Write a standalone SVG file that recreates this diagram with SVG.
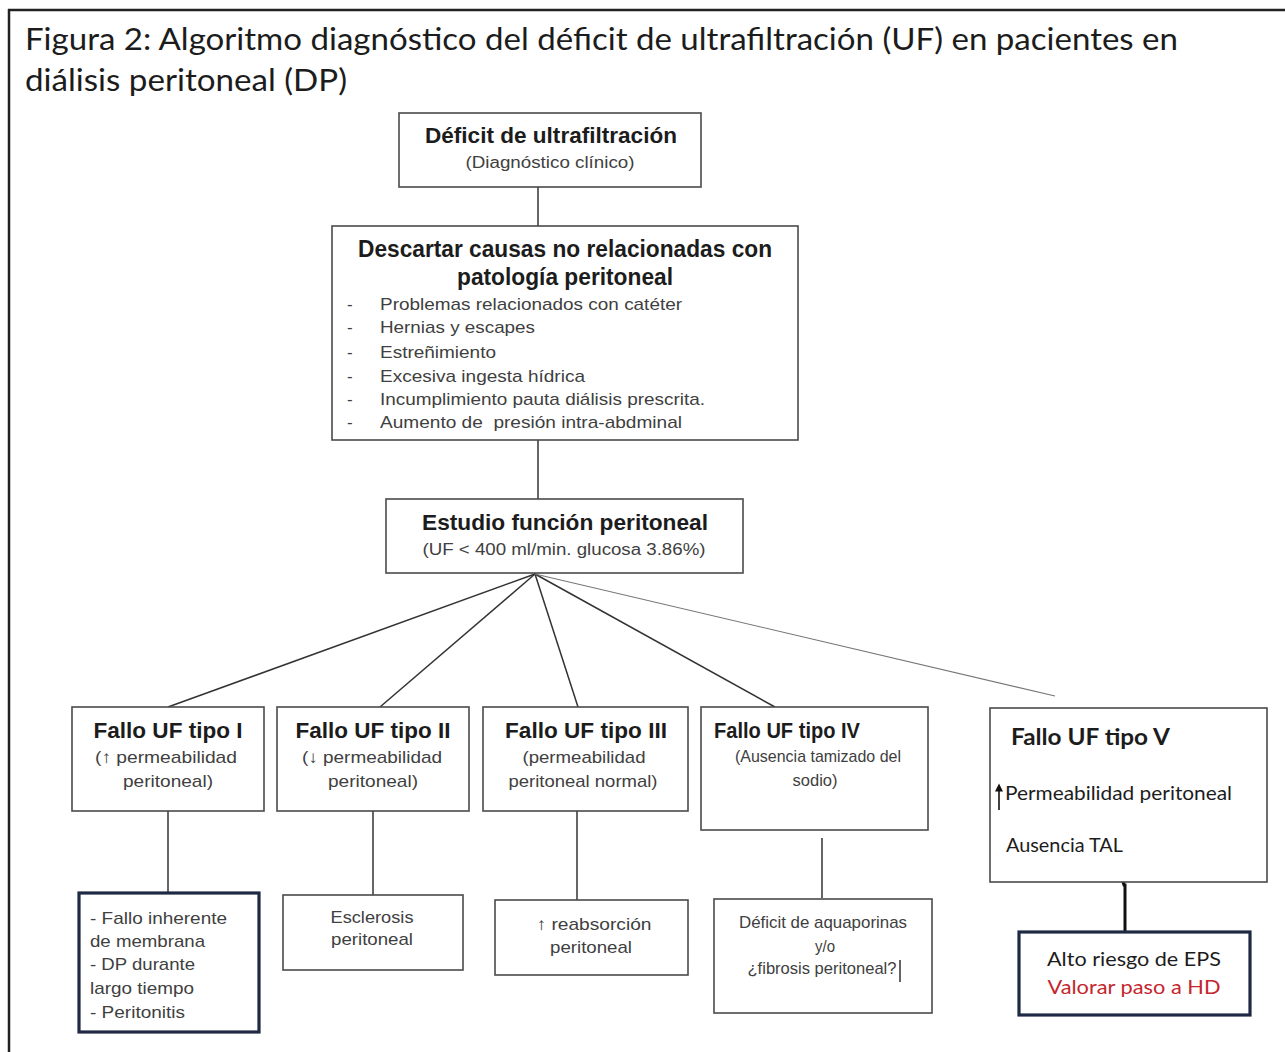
<svg xmlns="http://www.w3.org/2000/svg" width="1285" height="1052" viewBox="0 0 1285 1052">
<style>
.box{fill:#fff;stroke:#4a4a4a;stroke-width:1.6}
.dark{fill:#fff;stroke:#1e2a44;stroke-width:3.2}
.ar{font-family:"Liberation Sans",Arial,sans-serif;fill:#1c1c1c}
.b{font-weight:bold}
.sub{fill:#404040}
.cal{font-family:Lato,"Open Sans",sans-serif;fill:#1c1c1c}
.con{stroke:#333;stroke-width:1.5;fill:none}
</style>
<defs>
<marker id="ah" viewBox="0 0 10 10" refX="2" refY="5" markerWidth="9" markerHeight="8" orient="auto" markerUnits="userSpaceOnUse">
<path d="M0,0 L10,5 L0,10 Z" fill="#111"/>
</marker>
</defs>
<rect x="0" y="0" width="1285" height="1052" fill="#fff"/>
<g id="frame">
<line x1="8" y1="10" x2="1285" y2="10" stroke="#222" stroke-width="2.5"/>
<line x1="9" y1="9" x2="9" y2="1052" stroke="#222" stroke-width="2.5"/>
</g>
<g id="title" class="cal" font-size="30">
<text x="25" y="50" textLength="1153" lengthAdjust="spacingAndGlyphs">Figura 2: Algoritmo diagnóstico del déficit de ultrafiltración (UF) en pacientes en</text>
<text x="25" y="91" textLength="322" lengthAdjust="spacingAndGlyphs">diálisis peritoneal (DP)</text>
</g>
<g id="connectors">
<line class="con" x1="538" y1="187" x2="538" y2="226"/>
<line class="con" x1="538" y1="440" x2="538" y2="499"/>
<line class="con" x1="535" y1="574" x2="168" y2="707"/>
<line class="con" x1="535" y1="574" x2="380" y2="707"/>
<line class="con" x1="535" y1="574" x2="578" y2="707"/>
<line class="con" x1="535" y1="574" x2="775" y2="707"/>
<line x1="535" y1="574" x2="1055" y2="696" stroke="#777" stroke-width="1.1"/>
<line class="con" x1="168" y1="811" x2="168" y2="893"/>
<line class="con" x1="373" y1="811" x2="373" y2="895"/>
<line class="con" x1="577" y1="811" x2="577" y2="900"/>
<line class="con" x1="822" y1="838" x2="822" y2="898"/>
<path d="M1122,879 L1124,885 L1125,885 L1125,932" stroke="#111" stroke-width="3" fill="none"/>
</g>
<g id="n_deficit">
<rect class="box" x="399" y="113" width="302" height="74"/>
<text class="ar b" x="551" y="143" font-size="22" text-anchor="middle" textLength="252" lengthAdjust="spacingAndGlyphs">Déficit de ultrafiltración</text>
<text class="ar sub" x="550" y="168" font-size="16" text-anchor="middle" textLength="169" lengthAdjust="spacingAndGlyphs">(Diagnóstico clínico)</text>
</g>
<g id="n_descartar">
<rect class="box" x="332" y="226" width="466" height="214"/>
<text class="ar b" x="565" y="257" font-size="23" text-anchor="middle" textLength="414" lengthAdjust="spacingAndGlyphs">Descartar causas no relacionadas con</text>
<text class="ar b" x="565" y="285" font-size="23" text-anchor="middle" textLength="216" lengthAdjust="spacingAndGlyphs">patología peritoneal</text>
<g class="ar sub" font-size="17">
<text x="347" y="310">-</text><text x="380" y="310" textLength="302" lengthAdjust="spacingAndGlyphs">Problemas relacionados con catéter</text>
<text x="347" y="333">-</text><text x="380" y="333" textLength="155" lengthAdjust="spacingAndGlyphs">Hernias y escapes</text>
<text x="347" y="358">-</text><text x="380" y="358" textLength="116" lengthAdjust="spacingAndGlyphs">Estreñimiento</text>
<text x="347" y="382">-</text><text x="380" y="382" textLength="205" lengthAdjust="spacingAndGlyphs">Excesiva ingesta hídrica</text>
<text x="347" y="405">-</text><text x="380" y="405" textLength="325" lengthAdjust="spacingAndGlyphs">Incumplimiento pauta diálisis prescrita.</text>
<text x="347" y="428">-</text><text x="380" y="428" textLength="302" lengthAdjust="spacingAndGlyphs" xml:space="preserve">Aumento de  presión intra-abdminal</text>
</g>
</g>
<g id="n_estudio">
<rect class="box" x="386" y="499" width="357" height="74"/>
<text class="ar b" x="565" y="530" font-size="22" text-anchor="middle" textLength="286" lengthAdjust="spacingAndGlyphs">Estudio función peritoneal</text>
<text class="ar sub" x="564" y="555" font-size="16" text-anchor="middle" textLength="283" lengthAdjust="spacingAndGlyphs">(UF &lt; 400 ml/min. glucosa 3.86%)</text>
</g>
<g id="n_tipo1">
<rect class="box" x="72" y="707" width="192" height="104"/>
<text class="ar b" x="168" y="738" font-size="22" text-anchor="middle" textLength="149" lengthAdjust="spacingAndGlyphs">Fallo UF tipo I</text>
<text class="ar sub" x="166" y="763" font-size="17" text-anchor="middle" textLength="142" lengthAdjust="spacingAndGlyphs">(↑ permeabilidad</text>
<text class="ar sub" x="168" y="787" font-size="17" text-anchor="middle" textLength="90" lengthAdjust="spacingAndGlyphs">peritoneal)</text>
</g>
<g id="n_tipo2">
<rect class="box" x="277" y="707" width="192" height="104"/>
<text class="ar b" x="373" y="738" font-size="22" text-anchor="middle" textLength="155" lengthAdjust="spacingAndGlyphs">Fallo UF tipo II</text>
<text class="ar sub" x="372" y="763" font-size="17" text-anchor="middle" textLength="140" lengthAdjust="spacingAndGlyphs">(↓ permeabilidad</text>
<text class="ar sub" x="373" y="787" font-size="17" text-anchor="middle" textLength="90" lengthAdjust="spacingAndGlyphs">peritoneal)</text>
</g>
<g id="n_tipo3">
<rect class="box" x="483" y="707" width="205" height="104"/>
<text class="ar b" x="586" y="738" font-size="22" text-anchor="middle" textLength="162" lengthAdjust="spacingAndGlyphs">Fallo UF tipo III</text>
<text class="ar sub" x="584" y="763" font-size="17" text-anchor="middle" textLength="123" lengthAdjust="spacingAndGlyphs">(permeabilidad</text>
<text class="ar sub" x="583" y="787" font-size="17" text-anchor="middle" textLength="149" lengthAdjust="spacingAndGlyphs">peritoneal normal)</text>
</g>
<g id="n_tipo4">
<rect class="box" x="701" y="707" width="227" height="123"/>
<text class="ar b" x="714" y="738" font-size="22" textLength="146" lengthAdjust="spacingAndGlyphs">Fallo UF tipo IV</text>
<text class="ar sub" x="818" y="762" font-size="17" text-anchor="middle" textLength="166" lengthAdjust="spacingAndGlyphs">(Ausencia tamizado del</text>
<text class="ar sub" x="815" y="786" font-size="17" text-anchor="middle" textLength="45" lengthAdjust="spacingAndGlyphs">sodio)</text>
</g>
<g id="n_tipo5">
<rect class="box" x="990" y="708" width="277" height="174"/>
<text class="cal" x="1011" y="745" font-size="22" font-weight="bold" textLength="159" lengthAdjust="spacingAndGlyphs">Fallo UF tipo V</text>
<line x1="999" y1="810" x2="999" y2="790" stroke="#111" stroke-width="1.6" marker-end="url(#ah)"/>
<text class="cal" x="1005" y="800" font-size="19" textLength="227" lengthAdjust="spacingAndGlyphs">Permeabilidad peritoneal</text>
<text class="cal" x="1006" y="852" font-size="19" textLength="117" lengthAdjust="spacingAndGlyphs">Ausencia TAL</text>
</g>
<g id="n_res1">
<rect class="dark" x="79" y="893" width="180" height="139"/>
<g class="ar sub" font-size="17">
<text x="90" y="924" textLength="137" lengthAdjust="spacingAndGlyphs">- Fallo inherente</text>
<text x="90" y="947" textLength="115" lengthAdjust="spacingAndGlyphs">de membrana</text>
<text x="90" y="970" textLength="105" lengthAdjust="spacingAndGlyphs">- DP durante</text>
<text x="90" y="994" textLength="104" lengthAdjust="spacingAndGlyphs">largo tiempo</text>
<text x="90" y="1018" textLength="95" lengthAdjust="spacingAndGlyphs">- Peritonitis</text>
</g>
</g>
<g id="n_res2">
<rect class="box" x="283" y="895" width="180" height="75"/>
<text class="ar sub" x="372" y="923" font-size="17" text-anchor="middle" textLength="83" lengthAdjust="spacingAndGlyphs">Esclerosis</text>
<text class="ar sub" x="372" y="945" font-size="17" text-anchor="middle" textLength="82" lengthAdjust="spacingAndGlyphs">peritoneal</text>
</g>
<g id="n_res3">
<rect class="box" x="495" y="900" width="193" height="75"/>
<text class="ar sub" x="594" y="930" font-size="17" text-anchor="middle" textLength="115" lengthAdjust="spacingAndGlyphs">↑ reabsorción</text>
<text class="ar sub" x="591" y="953" font-size="17" text-anchor="middle" textLength="82" lengthAdjust="spacingAndGlyphs">peritoneal</text>
</g>
<g id="n_res4">
<rect class="box" x="714" y="899" width="218" height="114"/>
<text class="ar sub" x="823" y="928" font-size="17" text-anchor="middle" textLength="168" lengthAdjust="spacingAndGlyphs">Déficit de aquaporinas</text>
<text class="ar sub" x="825" y="952" font-size="17" text-anchor="middle" textLength="20" lengthAdjust="spacingAndGlyphs">y/o</text>
<text class="ar sub" x="822" y="974" font-size="17" text-anchor="middle" textLength="149" lengthAdjust="spacingAndGlyphs">¿fibrosis peritoneal?</text>
<line x1="900" y1="960" x2="900" y2="982" stroke="#111" stroke-width="1.3"/>
</g>
<g id="n_res5">
<rect class="dark" x="1019" y="932" width="231" height="83"/>
<text class="cal" x="1134" y="966" font-size="20" text-anchor="middle" textLength="174" lengthAdjust="spacingAndGlyphs">Alto riesgo de EPS</text>
<text class="cal" x="1134" y="994" font-size="20" text-anchor="middle" style="fill:#c4262e" textLength="173" lengthAdjust="spacingAndGlyphs">Valorar paso a HD</text>
</g>
</svg>
